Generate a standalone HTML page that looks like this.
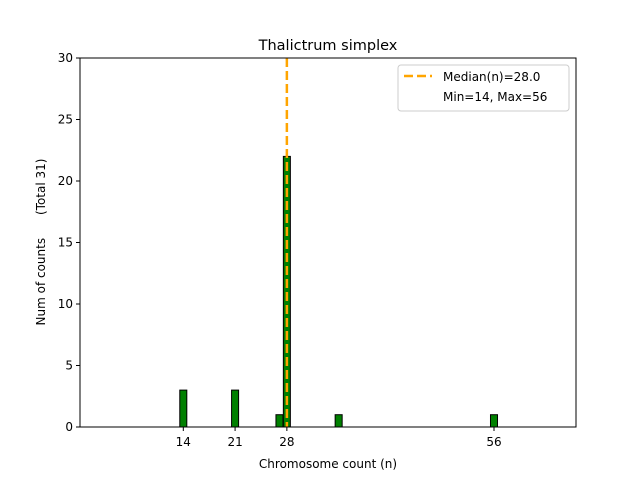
<!DOCTYPE html>
<html><head><meta charset="utf-8"><style>
body{margin:0;background:#fff;font-family:"Liberation Sans","DejaVu Sans",sans-serif}
</style></head><body>
<svg id="c" width="640" height="480" xmlns="http://www.w3.org/2000/svg" font-family="DejaVu Sans, Liberation Sans, sans-serif">
<rect width="640" height="480" fill="#fff"/>
</svg>
<script>
const categories=[14,21,27,28,35,56];
const counts=[3,3,1,22,1,1];
const xTicks=[14,21,28,56];
const yTicks=[0,5,10,15,20,25,30];
const median=28.0;
const minV=14, maxV=56, total=31;
const NS="http://www.w3.org/2000/svg";
const svg=document.getElementById('c');
const L=80,R=576,T=58,B=427;
const xs=v=>183.3+(v-14)*(494-183.3)/42;
const ys=v=>B-v*(B-T)/30;
function mk(t,a,p){const e=document.createElementNS(NS,t);for(const k in a)e.setAttribute(k,a[k]);(p||svg).appendChild(e);return e;}
let base=mk('line',{x1:xs(13.5),x2:xs(59.5),y1:B,y2:B,stroke:'#aaa','stroke-width':1});


categories.forEach((c,i)=>{
 const w=0.95*(494-183.3)/42;
 const r=mk('rect',{x:xs(c)-w/2,y:ys(counts[i]),width:w,height:B-ys(counts[i]),fill:'green',stroke:'#000','stroke-width':1});
 
 
});
const ml=mk('line',{x1:xs(median),x2:xs(median),y1:T,y2:B,stroke:'orange','stroke-width':2.5,'stroke-dasharray':'9,4'});


const ax=mk('rect',{x:L,y:T,width:R-L,height:B-T,fill:'none',stroke:'#000','stroke-width':1});


xTicks.forEach(v=>{
 const t=mk('line',{x1:xs(v),x2:xs(v),y1:B,y2:B+4,stroke:'#000'});
 
 
 const l=mk('text',{x:xs(v),y:B+19,'text-anchor':'middle','font-size':12});l.textContent=v;
 
 
});
yTicks.forEach(v=>{
 const t=mk('line',{x1:L-4,x2:L,y1:ys(v),y2:ys(v),stroke:'#000'});
 
 
 const l=mk('text',{x:L-7,y:ys(v)+4,'text-anchor':'end','font-size':12});l.textContent=v;
 
 
});
const ti=mk('text',{x:328,y:50,'text-anchor':'middle','font-size':14.5});ti.textContent='Thalictrum simplex';


const xt=mk('text',{x:328,y:468,'text-anchor':'middle','font-size':12});xt.textContent='Chromosome count (n)';


const yt=mk('text',{x:0,y:0,'text-anchor':'middle','font-size':12,transform:'translate(45,242) rotate(-90)',style:'white-space:pre'});
yt.textContent='Num of counts      (Total '+total+')';


const lg=mk('rect',{x:398,y:65,width:171,height:46,rx:3,fill:'#fff','fill-opacity':0.8,stroke:'#ccc'});


const ll=mk('line',{x1:404,x2:432,y1:76,y2:76,stroke:'orange','stroke-width':2.5,'stroke-dasharray':'9,4'});


const l1=mk('text',{x:443,y:81,'font-size':12});l1.textContent='Median(n)='+median.toFixed(1);


const l2=mk('text',{x:443,y:101,'font-size':12});l2.textContent='Min='+minV+', Max='+maxV;


</script>
</body></html>
